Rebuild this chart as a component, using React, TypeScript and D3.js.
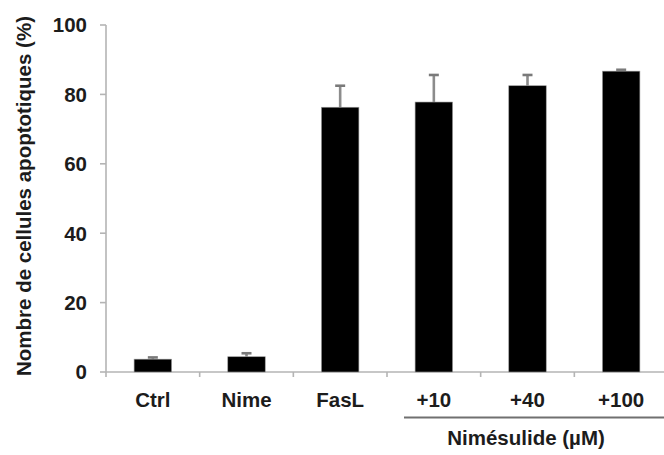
import React from "react";
import * as d3 from "d3";

const categories = ["Ctrl", "Nime", "FasL", "+10", "+40", "+100"];
const means = [3.7, 4.4, 76.3, 77.8, 82.5, 86.7];
const errors = [0.5, 1.0, 6.2, 7.8, 3.1, 0.4];
const yTicks = [0, 20, 40, 60, 80, 100];
const groupCategories = ["+10", "+40", "+100"];
const groupLabel = "Nimésulide (µM)";
const yTitle = "Nombre de cellules apoptotiques (%)";

const W = 664;
const H = 455;
const FONT = "'Liberation Sans', Arial, Helvetica, sans-serif";

export default function App() {
  const x = d3.scaleBand<string>().domain(categories).range([106, 668]).paddingInner(0).paddingOuter(0);
  const y = d3.scaleLinear().domain([0, 100]).range([372, 25]);
  const bw = x.bandwidth() * 0.4;
  const axisColor = "#b4b4b4";
  const textColor = "#1c1c1c";
  const fs = 20.5;

  const gStart = (x(groupCategories[0]) ?? 0);
  const gCenter =
    ((x(groupCategories[0]) ?? 0) + (x(groupCategories[groupCategories.length - 1]) ?? 0) + x.bandwidth()) / 2;

  return (
    <svg
      width={W}
      height={H}
      style={{ position: "absolute", left: 0, top: 0, background: "#fff" }}
      fontFamily={FONT}
    >
      {/* Y axis */}
      <line x1={x.range()[0]} x2={x.range()[0]} y1={y(100)} y2={y(0)} stroke={axisColor} strokeWidth={1.6} />
      {yTicks.map((t) => (
        <g key={t}>
          <line x1={100} x2={x.range()[0]} y1={y(t)} y2={y(t)} stroke={axisColor} strokeWidth={1.6} />
          <text
            x={87}
            y={y(t)}
            dy="0.36em"
            textAnchor="end"
            fontSize={fs}
            fontWeight="bold"
            fill={textColor}
          >
            {t}
          </text>
        </g>
      ))}
      {/* X axis */}
      <line x1={x.range()[0]} x2={x.range()[1]} y1={y(0)} y2={y(0)} stroke={axisColor} strokeWidth={1.6} />
      {categories.map((c, i) => (
        <line
          key={"xt" + i}
          x1={(x(c) ?? 0)}
          x2={(x(c) ?? 0)}
          y1={y(0)}
          y2={y(0) + 5}
          stroke={axisColor}
          strokeWidth={1.6}
        />
      ))}
      {/* Error bars */}
      {categories.map((c, i) => {
        const cx = (x(c) ?? 0) + x.bandwidth() / 2;
        return (
          <g key={"e" + i}>
            <line x1={cx} x2={cx} y1={y(means[i])} y2={y(means[i] + errors[i])} stroke="#8c8c8c" strokeWidth={2.6} />
            <line
              x1={cx - 5}
              x2={cx + 5}
              y1={y(means[i] + errors[i])}
              y2={y(means[i] + errors[i])}
              stroke="#7a7a7a"
              strokeWidth={2.6}
            />
          </g>
        );
      })}
      {/* Bars */}
      {categories.map((c, i) => {
        const cx = (x(c) ?? 0) + x.bandwidth() / 2;
        return (
          <rect
            key={"b" + i}
            x={cx - bw / 2}
            y={y(means[i])}
            width={bw}
            height={y(0) - y(means[i])}
            fill="#000"
            stroke="#9a9a9a"
            strokeWidth={0.6}
          />
        );
      })}
      {/* X labels */}
      {categories.map((c, i) => (
        <text
          key={"xl" + i}
          x={(x(c) ?? 0) + x.bandwidth() / 2}
          y={406.5}
          textAnchor="middle"
          fontSize={fs}
          fontWeight="bold"
          fill={textColor}
        >
          {c}
        </text>
      ))}
      {/* Group bracket */}
      <line x1={gStart + 17} x2={x.range()[1]} y1={417.5} y2={417.5} stroke="#707070" strokeWidth={2} />
      <text
        x={gCenter - 1.5}
        y={445}
        textAnchor="middle"
        fontSize={fs}
        fontWeight="bold"
        fill={textColor}
      >
        {groupLabel}
      </text>
      {/* Y title */}
      <text
        transform={`translate(31, 196) rotate(-90)`}
        textAnchor="middle"
        fontSize={fs}
        fontWeight="bold"
        fill={textColor}
      >
        {yTitle}
      </text>
    </svg>
  );
}
